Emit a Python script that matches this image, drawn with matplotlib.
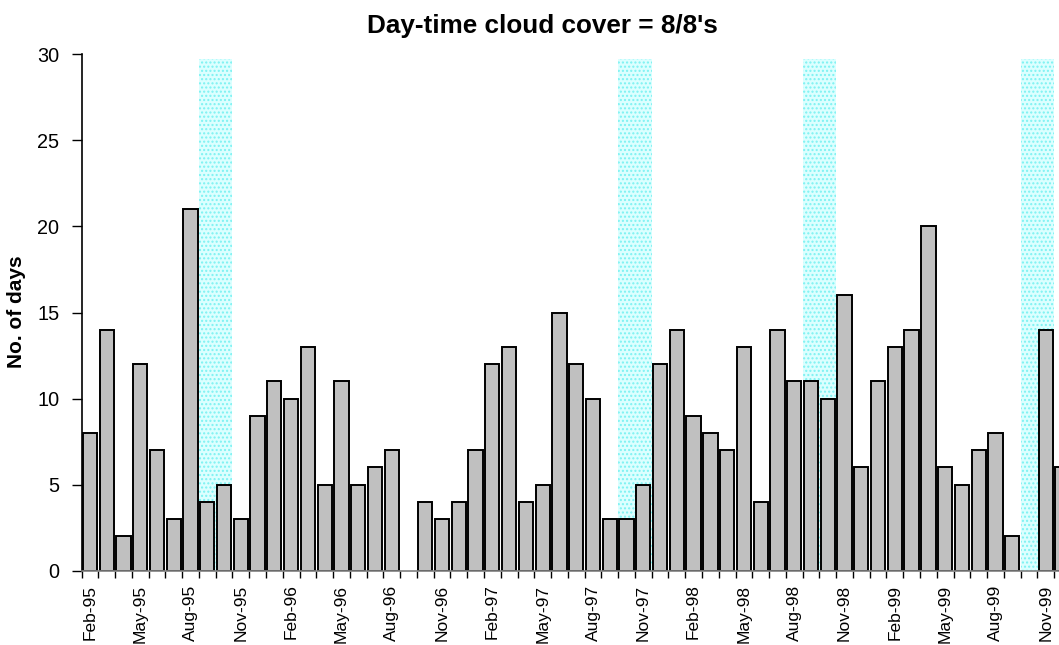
import numpy as np
import pandas as pd
import matplotlib
matplotlib.use("Agg")
import matplotlib.pyplot as plt

plt.rcParams['font.family'] = ['Liberation Sans', 'DejaVu Sans']
plt.rcParams['hatch.linewidth'] = 1.0

# monthly categories, Feb-95 .. Dec-99
months = pd.date_range("1995-02-01", "1999-12-01", freq="MS").strftime("%b-%y").tolist()

# days with 8/8 cloud cover per month (nan = no data)
days = [8, 14, 2, 12, 7, 3, 21, 4, 5, 3, 9,
        11, 10, 13, 5, 11, 5, 6, 7, np.nan, 4, 3, 4,
        7, 12, 13, 4, 5, 15, 12, 10, 3, 3, 5, 12,
        14, 9, 8, 7, 13, 4, 14, 11, 11, 10, 16, 6,
        11, 13, 14, 20, 6, 5, 7, 8, 2, np.nan, 14, 6]

# shaded periods (first month, last month)
shaded = [("Sep-95", "Oct-95"), ("Oct-97", "Nov-97"),
          ("Sep-98", "Oct-98"), ("Oct-99", "Nov-99")]

W, H = 1059, 645
fig = plt.figure(figsize=(W / 100, H / 100), dpi=100)
# axes: left 81.5px, bottom 570.7px, top 54.3px, 16.77px per month
ax = fig.add_axes([81.5 / W, (H - 570.7) / H, 59 * 16.77 / W, (570.7 - 54.3) / H])

x = np.arange(len(months))
for a, b in shaded:
    i0, i1 = months.index(a), months.index(b)
    ax.bar((i0 + i1) / 2, 29.7, width=i1 - i0 + 1, color="#dcffff",
           edgecolor="#7cf2f2", hatch="....", linewidth=0, zorder=1)

ax.bar(x, days, width=0.85, color="#c0c0c0", edgecolor="black",
       linewidth=1.4, zorder=2)

ax.set_xlim(-0.5, len(months) - 0.5)
ax.set_ylim(0, 30)
ax.set_yticks(range(0, 31, 5))
ax.tick_params(axis="y", labelsize=14.3, length=7, width=1, direction="out", pad=9)

ax.set_xticks(x[::3])
ax.set_xticklabels(months[::3], rotation=90, fontsize=12.5)
ax.set_xticks(np.arange(-0.5, len(months), 1), minor=True)
ax.tick_params(axis="x", which="major", length=0, pad=10)
ax.tick_params(axis="x", which="minor", length=5, width=1, direction="out")

for s in ["top", "right"]:
    ax.spines[s].set_visible(False)
ax.spines["left"].set_linewidth(1.2)
ax.spines["bottom"].set_color("#808080")
ax.spines["bottom"].set_linewidth(1.2)

fig.text(542.5 / W, 1 - 33 / H, "Day-time cloud cover = 8/8's", ha="center",
         va="baseline", fontsize=18.8, fontweight="bold")
fig.text(16.5 / W, 1 - 311.5 / H, "No. of days", rotation=90, ha="center",
         va="center", fontsize=15, fontweight="bold")

fig.savefig("out.png", dpi=100)
